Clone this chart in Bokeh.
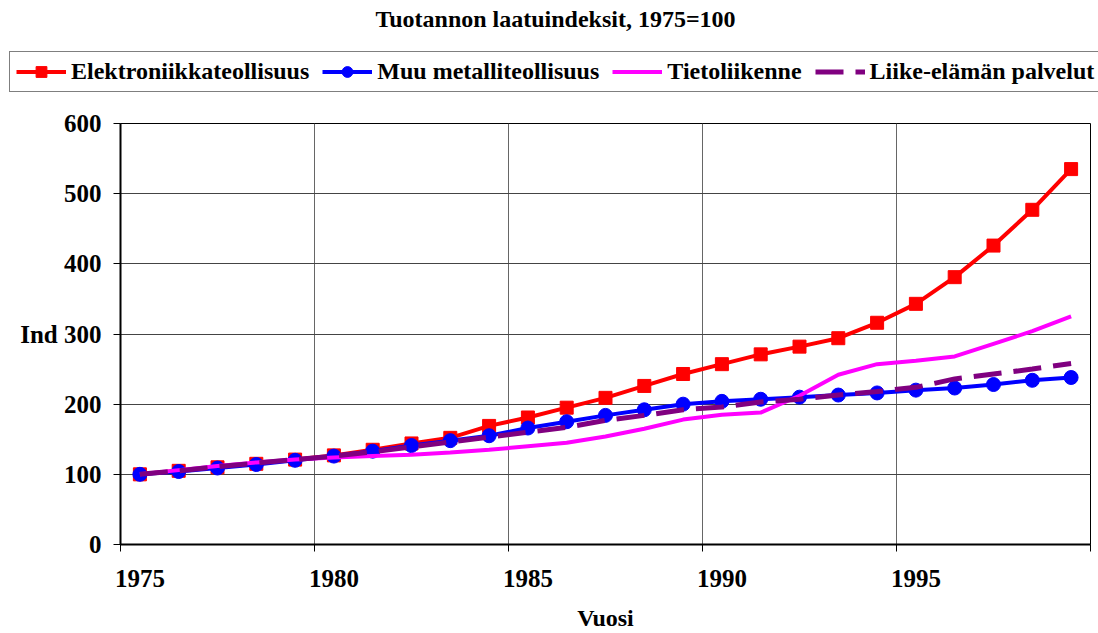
from bokeh.plotting import figure
from bokeh.models import Legend, LegendItem, FixedTicker, Range1d, Label, LinearAxis
from bokeh.layouts import column
from bokeh.embed import file_html
from bokeh.resources import INLINE

title_text = "Tuotannon laatuindeksit, 1975=100"
years = list(range(1975, 2000))
elektroniikka = [100, 105, 110, 115, 121, 127, 135, 144, 152, 169, 181, 195, 209, 226, 243,
                 257, 271, 282, 294, 316, 343, 381, 426, 477, 535]
metalli = [100, 104, 109, 114, 120, 126, 133, 141, 148, 155, 166, 175, 184, 192, 200,
           204, 207, 210, 213, 216, 220, 223, 228, 234, 238]
tietoliikenne = [100, 106, 112, 117, 121, 124, 126, 128, 131, 135, 140, 145, 154, 165, 178,
                 185, 188, 212, 242, 257, 262, 268, 286, 304, 325]
palvelut = [100, 105, 111, 116, 121, 126, 132, 139, 146, 153, 160, 167, 177, 184, 192,
            196, 203, 207, 213, 218, 224, 236, 243, 250, 258]
series_names = ["Elektroniikkateollisuus", "Muu metalliteollisuus", "Tietoliikenne",
                "Liike-elämän palvelut"]
x_label_years = [1975, 1980, 1985, 1990, 1995]
x_tick_marks = [1975, 1980, 1985, 1990, 1995, 2000]
y_ticks = [0, 100, 200, 300, 400, 500, 600]

FONT = "Liberation Serif"
W = 1098
TOP_H = 100

# ---------- header figure: title + legend (its frame covers the whole strip) ----------
head = figure(width=W, height=TOP_H, output_backend="svg", toolbar_location=None,
              x_range=Range1d(0, W), y_range=Range1d(0, TOP_H),
              x_axis_type=None, y_axis_type=None, min_border=0)
head.frame_align = False
head.outline_line_color = None
head.title.visible = False
head.add_layout(Label(x=555, y=TOP_H - 18, text=title_text, text_align="center",
                      text_baseline="middle", text_font=FONT, text_font_size="24px",
                      text_font_style="bold", text_color="black"))

# off-screen proxies so that the legend can show each series' symbol
off = [-50, -40]
h1l = head.line(off, off, line_color="red", line_width=4)
h1m = head.scatter(off, off, marker="square", fill_color="red", line_color="red")
h2l = head.line(off, off, line_color="blue", line_width=4)
h2m = head.scatter(off, off, marker="circle", fill_color="blue", line_color="blue")
h3l = head.line(off, off, line_color="magenta", line_width=4)
h4l = head.line(off, off, line_color="purple", line_width=5, line_dash="28 12")

legend = Legend(items=[
    LegendItem(label=series_names[0], renderers=[h1l, h1m]),
    LegendItem(label=series_names[1], renderers=[h2l, h2m]),
    LegendItem(label=series_names[2], renderers=[h3l]),
    LegendItem(label=series_names[3], renderers=[h4l]),
], orientation="horizontal", location=(9, 8))
legend.label_text_font = FONT
legend.label_text_font_size = "24px"
legend.label_text_font_style = "bold"
legend.label_text_color = "black"
legend.glyph_width = 50
legend.glyph_height = 27
legend.label_height = 25
legend.label_standoff = 5
legend.spacing = 13
legend.padding = 6
legend.margin = 0
legend.border_line_color = "black"
legend.border_line_width = 1
head.add_layout(legend, "center")

# ---------- main chart ----------
xs = [y + 0.5 for y in years]   # each year's point sits mid-interval (category axis)

p = figure(width=W, height=633 - TOP_H, output_backend="svg", toolbar_location=None,
           x_range=Range1d(1975, 2000), y_range=Range1d(0, 600),
           min_border_left=120, min_border_right=8, min_border_bottom=89,
           min_border_top=123 - TOP_H)
p.frame_align = False
p.title.visible = False
p.outline_line_color = "black"
p.outline_line_width = 1

p.line(xs, elektroniikka, line_color="red", line_width=4)
p.scatter(xs, elektroniikka, marker="square", size=13, fill_color="red", line_color="red")
p.line(xs, metalli, line_color="blue", line_width=4)
p.scatter(xs, metalli, marker="circle", size=14, fill_color="blue", line_color="blue")
p.line(xs, tietoliikenne, line_color="magenta", line_width=4)
p.line(xs, palvelut, line_color="purple", line_width=5, line_dash="28 12")

# x axis (closest to frame): line + tick marks on the interval boundaries, no labels
xa = p.xaxis[0]
xa.ticker = FixedTicker(ticks=x_tick_marks)
xa.major_label_overrides = {t: "" for t in x_tick_marks}
xa.major_label_text_font_size = "1px"
xa.major_label_standoff = 0
xa.axis_line_color = "black"
xa.axis_line_width = 2
xa.major_tick_line_color = "black"
xa.major_tick_out = 7
xa.major_tick_in = 0
xa.minor_tick_line_color = None

# second x axis: year labels centred on their categories, plus the axis title
label_pos = [y + 0.5 for y in x_label_years]
xb = LinearAxis(ticker=FixedTicker(ticks=label_pos),
                major_label_overrides={pos: str(y) for pos, y in zip(label_pos, x_label_years)})
xb.axis_line_color = None
xb.major_tick_line_color = None
xb.minor_tick_line_color = None
xb.major_tick_out = 0
xb.major_tick_in = 0
xb.major_label_text_font = FONT
xb.major_label_text_font_size = "25px"
xb.major_label_text_font_style = "bold"
xb.major_label_text_color = "black"
xb.major_label_standoff = 18
xb.axis_label = "Vuosi"
xb.axis_label_text_font = FONT
xb.axis_label_text_font_size = "24px"
xb.axis_label_text_font_style = "bold"
xb.axis_label_text_color = "black"
xb.axis_label_standoff = 15
p.add_layout(xb, "below")

ya = p.yaxis[0]
ya.ticker = FixedTicker(ticks=y_ticks)
ya.major_label_overrides = {300: "Ind 300"}
ya.major_label_text_font = FONT
ya.major_label_text_font_size = "25px"
ya.major_label_text_font_style = "bold"
ya.major_label_text_color = "black"
ya.axis_line_color = "black"
ya.axis_line_width = 2
ya.major_tick_line_color = "black"
ya.major_tick_out = 7
ya.major_tick_in = 0
ya.minor_tick_line_color = None
ya.major_label_standoff = 12

p.xgrid.ticker = FixedTicker(ticks=[1980, 1985, 1990, 1995])
p.ygrid.ticker = FixedTicker(ticks=[100, 200, 300, 400, 500])
p.xgrid.grid_line_color = "#666666"
p.ygrid.grid_line_color = "#444444"
p.xgrid.grid_line_width = 1
p.ygrid.grid_line_width = 1

page = column(head, p, spacing=0)
open("out.html", "w").write(file_html(page, INLINE))
